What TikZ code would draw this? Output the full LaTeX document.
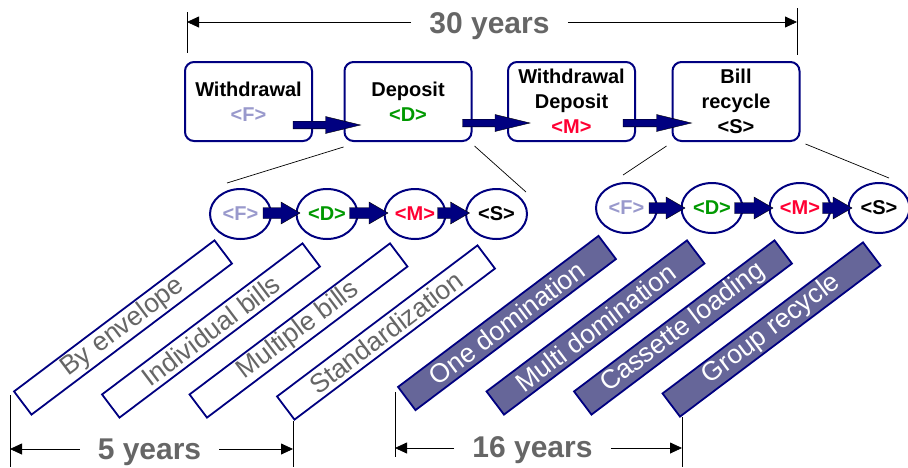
\documentclass[tikz,border=0pt]{standalone}
\usepackage{fontspec}
\setmainfont{Liberation Sans}
\usetikzlibrary{calc,arrows.meta,shapes.geometric}

\definecolor{navyline}{HTML}{000080}
\definecolor{fcol}{HTML}{9999CC}
\definecolor{dcol}{HTML}{009900}
\definecolor{mcol}{HTML}{FF0033}
\definecolor{graytxt}{HTML}{666666}
\definecolor{slate}{HTML}{666699}

% horizontal block arrow: start, tip, shaft half-width, head half-width, head length
\newcommand\stagearrow[5]{%
  \path[arrowbody] let \p1=#1, \p2=#2 in
    (\x1,\y1+#3) -- (\x2-#5,\y1+#3) -- (\x2-#5,\y1+#4) -- (\x2,\y1)
    -- (\x2-#5,\y1-#4) -- (\x2-#5,\y1-#3) -- (\x1,\y1-#3) -- cycle;}

\begin{document}
\begin{tikzpicture}[x=1pt,y=-1pt,
  stage/.style={draw=navyline, line width=2pt, rounded corners=9pt, fill=white,
    minimum width=127pt, minimum height=79pt, inner sep=0pt, align=center,
    font=\fontsize{20}{25}\selectfont\bfseries},
  phase/.style={ellipse, draw=navyline, line width=2pt, fill=white,
    minimum width=61pt, minimum height=50pt, inner sep=0pt,
    font=\fontsize{20}{24}\selectfont\bfseries},
  tech/.style={draw=navyline, line width=1.8pt, minimum width=251pt,
    minimum height=29pt, inner sep=0pt, rotate=37,
    font=\fontsize{26.5}{30}\selectfont},
  techopen/.style={tech, fill=white, text=graytxt},
  techfull/.style={tech, fill=slate, text=white},
  span/.style={font=\fontsize{30}{34}\selectfont\bfseries, text=graytxt,
    inner xsep=18pt, inner ysep=0pt, anchor=base},
  tick/.style={line width=0.8pt},
  dimline/.style={line width=0.8pt, -{Triangle[length=12pt,width=11pt]}},
  guide/.style={line width=0.7pt},
  arrowbody/.style={fill=navyline, draw=black, line width=0.4pt},
]
\useasboundingbox (0,0) rectangle (908,467);

% ---- product generations ----
\node[stage] (s1) at (248.5,101.5) {Withdrawal\\\textcolor{fcol}{<F>}};
\node[stage] (s2) at (408,101.5) {Deposit\\\textcolor{dcol}{<D>}};
\node[stage] (s3) at (571.5,101.5) {Withdrawal\\Deposit\\\textcolor{mcol}{<M>}};
\node[stage] (s4) at (736,101.5) {Bill\\recycle\\<S>};

\stagearrow{($(s1.east)+(-20,23.5)$)}{($(s2.west)+(17,23.5)$)}{3.8pt}{8.5pt}{35pt}
\stagearrow{($(s2.east)+(-10,21.5)$)}{($(s3.west)+(23,21.5)$)}{3.8pt}{8.5pt}{35pt}
\stagearrow{($(s3.east)+(-13,21.5)$)}{($(s4.west)+(20,21.5)$)}{3.8pt}{8.5pt}{35pt}

% ---- guide lines to the detail rows ----
\coordinate (g1a) at ($(s2.south west)+(0,5)$);
\coordinate (g1b) at (227,183);
\coordinate (g2a) at ($(s2.south east)+(2,4)$);
\coordinate (g2b) at (526,192);
\coordinate (g3a) at ($(s4.south west)+(-5,4)$);
\coordinate (g3b) at (623,175);
\coordinate (g4a) at ($(s4.south east)+(5,2)$);
\coordinate (g4b) at (889,178);
\draw[guide] (g1a) -- (g1b);
\draw[guide] (g2a) -- (g2b);
\draw[guide] (g3a) -- (g3b);
\draw[guide] (g4a) -- (g4b);

% ---- deposit row ----
\node[phase] (lf) at (240.5,214) {\textcolor{fcol}{<F>}};
\node[phase] (ld) at (327,214) {\textcolor{dcol}{<D>}};
\node[phase] (lm) at (415,214) {\textcolor{mcol}{<M>}};
\node[phase] (ls) at (496.5,214) {<S>};
\stagearrow{($(lf.east)+(-9,-1)$)}{($(ld.west)+(4.5,-1)$)}{5.5pt}{11pt}{19pt}
\stagearrow{($(ld.east)+(-9,-1)$)}{($(lm.west)+(4.5,-1)$)}{5.5pt}{11pt}{19pt}
\stagearrow{($(lm.east)+(-9,-1)$)}{($(ls.west)+(4.5,-1)$)}{5.5pt}{11pt}{19pt}

% ---- bill recycle row ----
\node[phase] (rf) at (626.5,208) {\textcolor{fcol}{<F>}};
\node[phase] (rd) at (712,208) {\textcolor{dcol}{<D>}};
\node[phase] (rm) at (800,208) {\textcolor{mcol}{<M>}};
\node[phase] (rs) at (879,208) {<S>};
\stagearrow{($(rf.east)+(-9,0)$)}{($(rd.west)+(4.5,0)$)}{5.5pt}{11pt}{19pt}
\stagearrow{($(rd.east)+(-9,0)$)}{($(rm.west)+(4.5,0)$)}{5.5pt}{11pt}{19pt}
\stagearrow{($(rm.east)+(-9,0)$)}{($(rs.west)+(4.5,0)$)}{5.5pt}{11pt}{19pt}

% ---- technology bars ----
\node[techopen] (t1) at (123,327.5) {By envelope};
\node[techopen] (t2) at (211,330.5) {Individual bills};
\node[techopen] (t3) at (298.5,330.5) {Multiple bills};
\node[techopen] (t4) at (386,332.5) {Standardization};
\node[techfull] (t5) at (507,323) {One domination};
\node[techfull] (t6) at (595.5,327.5) {Multi domination};
\node[techfull] (t7) at (683,327.5) {Cassette loading};
\node[techfull] (t8) at (771.5,329.5) {Group recycle};

% ---- time spans ----
\coordinate (d30L) at (187,22);
\coordinate (d30R) at (797,22);
\draw[tick] ($(d30L)+(0,-10)$) -- ($(d30L)+(0,31)$);
\draw[tick] ($(d30R)+(0,-14)$) -- ($(d30R)+(0,33)$);
\node[span] (y30) at (489.5,33) {30 years};
\draw[dimline] (y30.west |- d30L) -- (d30L);
\draw[dimline] (y30.east |- d30R) -- (d30R);

\coordinate (d5L) at (10,449);
\coordinate (d5R) at (293,449);
\draw[tick] ($(d5L)+(0,-54)$) -- ($(d5L)+(0,18)$);
\draw[tick] ($(d5R)+(0,-28)$) -- ($(d5R)+(0,18)$);
\node[span] (y5) at (149.5,459) {5 years};
\draw[dimline] (y5.west |- d5L) -- (d5L);
\draw[dimline] (y5.east |- d5R) -- (d5R);

\coordinate (d16L) at (395,448);
\coordinate (d16R) at (682,448);
\draw[tick] ($(d16L)+(0,-56)$) -- ($(d16L)+(0,9)$);
\draw[tick] ($(d16R)+(0,-31)$) -- ($(d16R)+(0,19)$);
\node[span] (y16) at (532.5,457) {16 years};
\draw[dimline] (y16.west |- d16L) -- (d16L);
\draw[dimline] (y16.east |- d16R) -- (d16R);
\end{tikzpicture}
\end{document}
